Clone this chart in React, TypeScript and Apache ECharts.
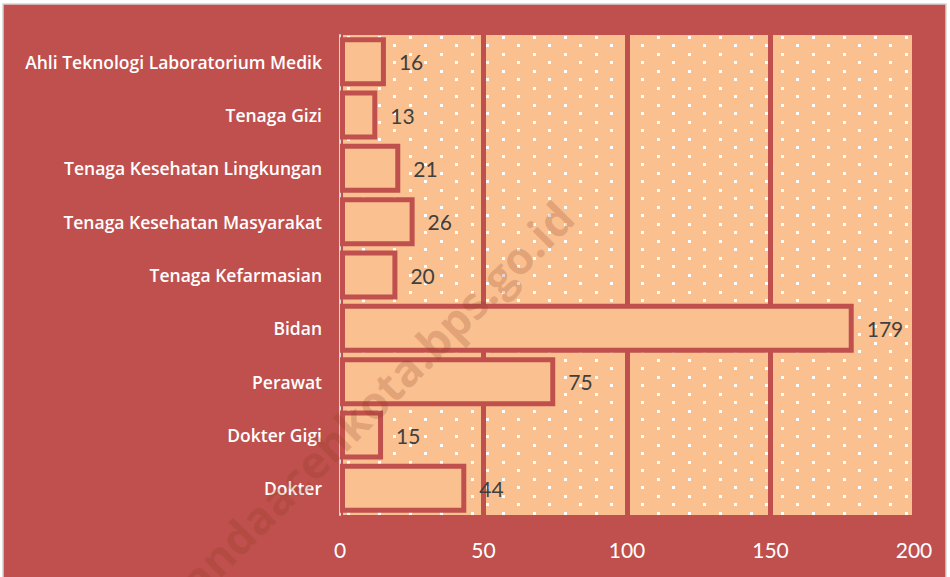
import React, { useEffect, useRef } from "react";
import * as echarts from "echarts";

const categories = [
  "Dokter",
  "Dokter Gigi",
  "Perawat",
  "Bidan",
  "Tenaga Kefarmasian",
  "Tenaga Kesehatan Masyarakat",
  "Tenaga Kesehatan Lingkungan",
  "Tenaga Gizi",
  "Ahli Teknologi Laboratorium Medik",
];
const values = [44, 15, 75, 179, 20, 26, 21, 13, 16];
const xTicks = [0, 50, 100, 150, 200];

const RED = "#C0504D";
const PEACH = "#FAC090";

function makeDots(): HTMLCanvasElement {
  const c = document.createElement("canvas");
  c.width = 31;
  c.height = 17;
  const ctx = c.getContext("2d")!;
  ctx.fillStyle = PEACH;
  ctx.fillRect(0, 0, 31, 17);
  ctx.fillStyle = "#FFFFFF";
  ctx.fillRect(6, 2, 3, 3);
  ctx.fillRect(21, 10, 3, 3);
  return c;
}

export default function App() {
  const ref = useRef<HTMLDivElement>(null);
  useEffect(() => {
    if (!ref.current) return;
    const chart = echarts.init(ref.current, undefined, { renderer: "svg" });
    const dots = makeDots();
    chart.setOption({
      animation: false,
      backgroundColor: "#FFFFFF",
      textStyle: { fontFamily: "Lato" },
      graphic: [
        {
          type: "rect",
          z: -10,
          silent: true,
          shape: { x: 3, y: 4, width: 943, height: 580 },
          style: { fill: RED, stroke: "#D4D4D4", lineWidth: 1.5 },
        },
        {
          type: "text",
          z: 100,
          silent: true,
          x: 366,
          y: 408,
          rotation: Math.PI / 4,
          style: {
            text: "bandaacehkota.bps.go.id",
            font: "bold 45px 'Open Sans'",
            fill: "rgba(140,60,30,0.22)",
            align: "center",
            verticalAlign: "middle",
          },
        },
      ],
      grid: {
        left: 340,
        right: 36,
        top: 35,
        bottom: 62,
        show: true,
        borderWidth: 0,
        backgroundColor: { image: dots, repeat: "repeat", imageWidth: 31, imageHeight: 17 },
      },
      xAxis: {
        type: "value",
        min: 0,
        max: 200,
        interval: 50,
        axisLine: { show: false },
        axisTick: { show: false },
        axisLabel: {
          color: "#FFFFFF",
          fontSize: 21,
          margin: 24,
          fontFamily: "Lato",
          formatter: (v: number) => (xTicks.includes(v) ? String(v) : ""),
        },
        splitLine: { show: true, lineStyle: { color: RED, width: 5 } },
      },
      yAxis: {
        type: "category",
        data: categories,
        axisLine: { show: true, lineStyle: { color: "#D9D9D9", width: 2 } },
        axisTick: { show: false },
        axisLabel: {
          color: "#FFFFFF",
          fontSize: 17.5,
          fontWeight: 600,
          margin: 18,
          fontFamily: "Open Sans",
        },
        splitLine: { show: false },
      },
      series: [
        {
          type: "bar",
          data: values,
          barWidth: 49,
          itemStyle: { color: PEACH, borderColor: RED, borderWidth: 5 },
          label: {
            show: true,
            position: "right",
            distance: 13,
            color: "#404040",
            fontSize: 21,
            fontFamily: "Lato",
          },
        },
      ],
    });
    return () => chart.dispose();
  }, []);
  return (
    <div
      ref={ref}
      style={{ position: "fixed", left: 0, top: 0, width: 950, height: 577 }}
    />
  );
}
